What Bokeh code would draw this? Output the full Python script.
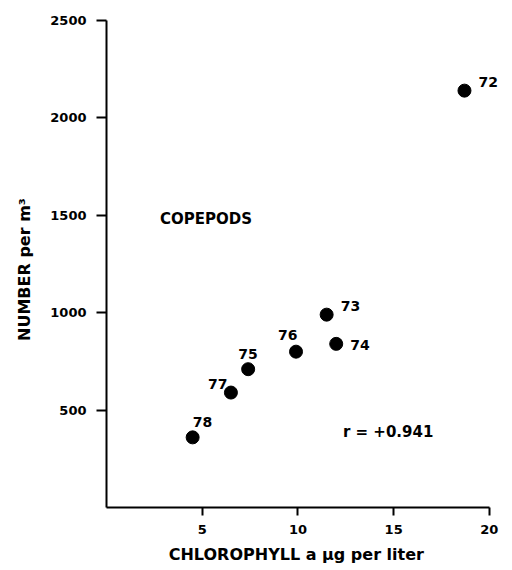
from bokeh.plotting import figure
from bokeh.models import ColumnDataSource, Range1d, FixedTicker, Label, LabelSet
from bokeh.core.properties import value
from bokeh.embed import file_html
from bokeh.resources import INLINE

# data
years = ["72", "73", "74", "75", "76", "77", "78"]
chlorophyll = [18.7, 11.5, 12.0, 7.4, 9.9, 6.5, 4.5]
copepods = [2140, 990, 840, 710, 800, 590, 360]
x_ticks = [5, 10, 15, 20]
y_ticks = [500, 1000, 1500, 2000, 2500]

# label offsets in screen pixels (style)
lab_dx = [14, 14, 14, -10, -18, -23, 0]
lab_dy = [9, 9, -1, 15, 17, 9, 15]

FONT = "DejaVu Sans"

p = figure(width=508, height=566, output_backend="svg", toolbar_location=None,
           x_range=Range1d(0, 21), y_range=Range1d(0, 2500),
           min_border_left=106, min_border_right=0, min_border_top=20, min_border_bottom=59)
p.outline_line_color = None
p.xgrid.visible = False
p.ygrid.visible = False

for ax in (p.xaxis[0], p.yaxis[0]):
    ax.axis_line_width = 2
    ax.axis_line_color = "black"
    ax.major_tick_line_width = 2
    ax.major_tick_line_color = "black"
    ax.major_tick_in = 0
    ax.minor_tick_line_color = None
    ax.major_label_text_font = FONT
    ax.major_label_text_font_style = "bold"
    ax.major_label_text_font_size = "13px"
    ax.major_label_text_color = "black"
    ax.axis_label_text_font = FONT
    ax.axis_label_text_font_style = "bold"
    ax.axis_label_text_font_size = "16px"
    ax.axis_label_text_color = "black"

p.xaxis.bounds = (0, 20)
p.xaxis.major_tick_out = 8
p.yaxis.major_tick_out = 10
p.xaxis.ticker = FixedTicker(ticks=x_ticks)
p.yaxis.ticker = FixedTicker(ticks=y_ticks)
p.xaxis.major_label_standoff = 9
p.yaxis.major_label_standoff = 10
p.xaxis.axis_label = "CHLOROPHYLL  a  µg  per  liter"
p.yaxis.axis_label = "NUMBER  per  m³"
p.xaxis.axis_label_standoff = 8
p.yaxis.axis_label_standoff = 13

src = ColumnDataSource(dict(x=chlorophyll, y=copepods, t=years, dx=lab_dx, dy=lab_dy))
p.scatter("x", "y", source=src, size=13, color="black")
p.add_layout(LabelSet(x="x", y="y", text="t", source=src, x_offset="dx", y_offset="dy",
                      text_font=value(FONT), text_font_style="bold", text_font_size="14px",
                      text_align="left", text_baseline="middle", text_color="black"))

p.add_layout(Label(x=2.8, y=1482, text="COPEPODS", text_font=FONT,
                   text_font_style="bold", text_font_size="15px",
                   text_baseline="middle", text_color="black"))
p.add_layout(Label(x=12.35, y=390, text="r = +0.941", text_font=FONT,
                   text_font_style="bold", text_font_size="15px",
                   text_baseline="middle", text_color="black"))

open("out.html", "w").write(file_html(p, INLINE))
